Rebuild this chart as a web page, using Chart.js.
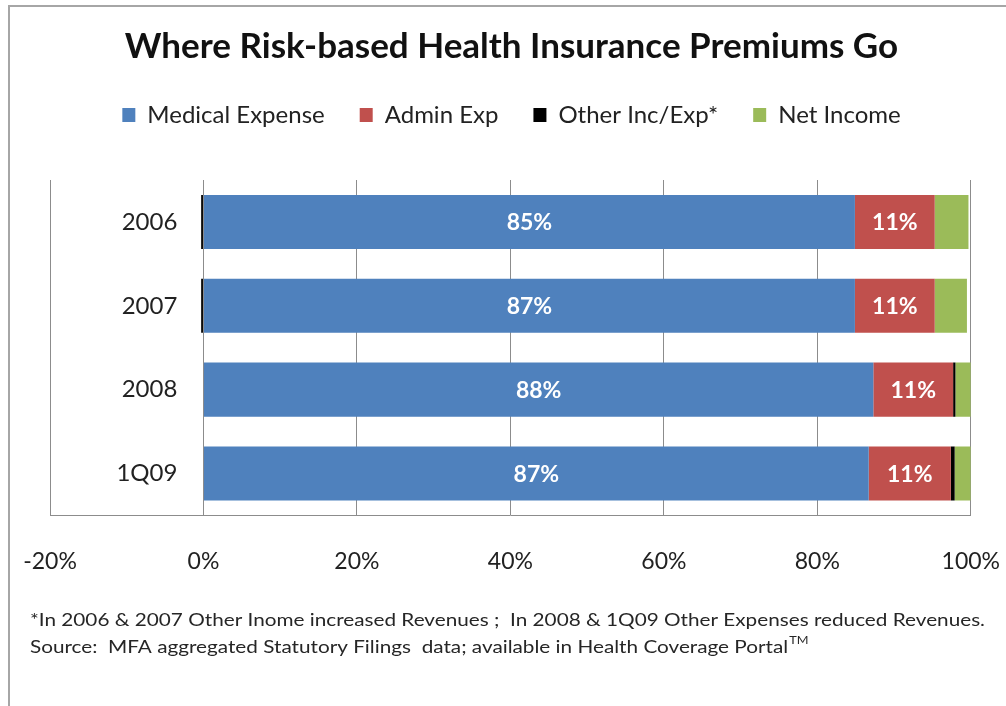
<!DOCTYPE html>
<html>
<head>
<meta charset="utf-8">
<title>Where Risk-based Health Insurance Premiums Go</title>
<script src="https://cdn.jsdelivr.net/npm/chart.js@4.4.1/dist/chart.umd.min.js"></script>
<style>
  html, body { margin: 0; padding: 0; background: #fff; }
</style>
</head>
<body>
<canvas id="myChart" width="1006" height="706"></canvas>
<script>
var categories = ['2006', '2007', '2008', '1Q09']
var medical = [84.9, 84.9, 87.3, 86.7]
var admin = [10.4, 10.4, 10.4, 10.7]
var other = [-0.3, -0.3, 0.3, 0.5]
var netIncome = [4.4, 4.2, 2.0, 2.1]
// labels as printed on the bars
var medicalLabels = ['85%', '87%', '88%', '87%']
var adminLabels = ['11%', '11%', '11%', '11%']
var xTickLabels = ['-20%', '0%', '20%', '40%', '60%', '80%', '100%']
var footnotes = [
    '*In 2006 & 2007 Other Inome increased Revenues ;  In 2008 & 1Q09 Other Expenses reduced Revenues.',
    'Source:  MFA aggregated Statutory Filings  data; available in Health Coverage Portal'
]

var FONT = "Lato, 'Open Sans', sans-serif"
Chart.defaults.font.family = FONT

// gray frame round the picture
var framePlugin = {
    id: 'frame',
    beforeDraw: function(chart){
        var ctx = chart.ctx
        ctx.save()
        ctx.strokeStyle = '#a6a6a6'
        ctx.lineWidth = 2
        ctx.beginPath()
        ctx.moveTo(9, 706)
        ctx.lineTo(9, 6)
        ctx.lineTo(1006, 6)
        ctx.stroke()
        ctx.restore()
    }
}

// push the plot a bit below the legend
var legendSpace = {
    id: 'legendSpace',
    beforeInit: function(chart){
        var fit = chart.legend.fit
        chart.legend.fit = function(){
            fit.bind(chart.legend)()
            this.height += 43
        }
    }
}

var barLabels = {
    id: 'barLabels',
    afterDatasetsDraw: function(chart){
        var ctx = chart.ctx
        ctx.save()
        ctx.font = 'bold 23px ' + FONT
        ctx.fillStyle = '#fff'
        ctx.textAlign = 'center'
        ctx.textBaseline = 'middle'
        ;[[0, medicalLabels], [1, adminLabels]].forEach(function(p){
            chart.getDatasetMeta(p[0]).data.forEach(function(bar, i){
                var c = bar.getCenterPoint()
                ctx.fillText(p[1][i], c.x, c.y + 1)
            })
        })
        ctx.restore()
    }
}

var footnotePlugin = {
    id: 'footnote',
    afterDraw: function(chart){
        var ctx = chart.ctx
        ctx.save()
        ctx.fillStyle = '#262626'
        ctx.textBaseline = 'middle'
        ctx.textAlign = 'left'
        ctx.font = '18px ' + FONT
        // stretch to the width of the original footnote
        var sx = 955 / ctx.measureText(footnotes[0]).width
        ctx.translate(30, 0)
        ctx.scale(sx, 1)
        ctx.fillText(footnotes[0], 0, 620)
        ctx.fillText(footnotes[1], 0, 647)
        var w = ctx.measureText(footnotes[1]).width
        ctx.font = '11px ' + FONT
        ctx.fillText('TM', w + 1, 640)
        ctx.restore()
    }
}

var myChart = document.getElementById('myChart').getContext('2d')

var chart = new Chart(myChart, {
    type: 'bar',
    data: {
        labels: categories,
        datasets: [
            { label: 'Medical Expense', data: medical, backgroundColor: '#4f81bd' },
            { label: 'Admin Exp', data: admin, backgroundColor: '#c0504d' },
            { label: 'Other Inc/Exp*', data: other, backgroundColor: '#000000' },
            { label: 'Net Income', data: netIncome, backgroundColor: '#9bbb59' }
        ]
    },
    options: {
        indexAxis: 'y',
        responsive: false,
        animation: false,
        layout: { padding: { left: 50, right: 33, top: 0, bottom: 125 } },
        datasets: { bar: { categoryPercentage: 0.8, barPercentage: 0.806, borderWidth: 0 } },
        scales: {
            x: {
                stacked: true,
                min: -20,
                max: 100,
                ticks: {
                    stepSize: 20,
                    padding: 6,
                    color: '#222',
                    font: { size: 23 },
                    callback: function(v, i){ return xTickLabels[i] }
                },
                grid: { color: '#8c8c8c', drawTicks: true, tickLength: 26, tickColor: 'rgba(0,0,0,0)' },
                border: { color: '#8c8c8c' }
            },
            y: {
                stacked: true,
                // category labels sit just left of the 0% line
                position: { x: -3.4 },
                grid: { display: false },
                border: { display: false },
                ticks: { padding: 0, color: '#222', font: { size: 24 } }
            }
        },
        plugins: {
            title: {
                display: true,
                text: 'Where Risk-based Health Insurance Premiums Go',
                color: '#111',
                font: { size: 35, weight: 'bold' },
                padding: { top: 26, bottom: 0 }
            },
            legend: {
                position: 'top',
                labels: { boxWidth: 13, boxHeight: 14, padding: 35, color: '#222', font: { size: 24 } }
            },
            tooltip: { enabled: false }
        }
    },
    plugins: [framePlugin, legendSpace, barLabels, footnotePlugin]
})
</script>
</body>
</html>
